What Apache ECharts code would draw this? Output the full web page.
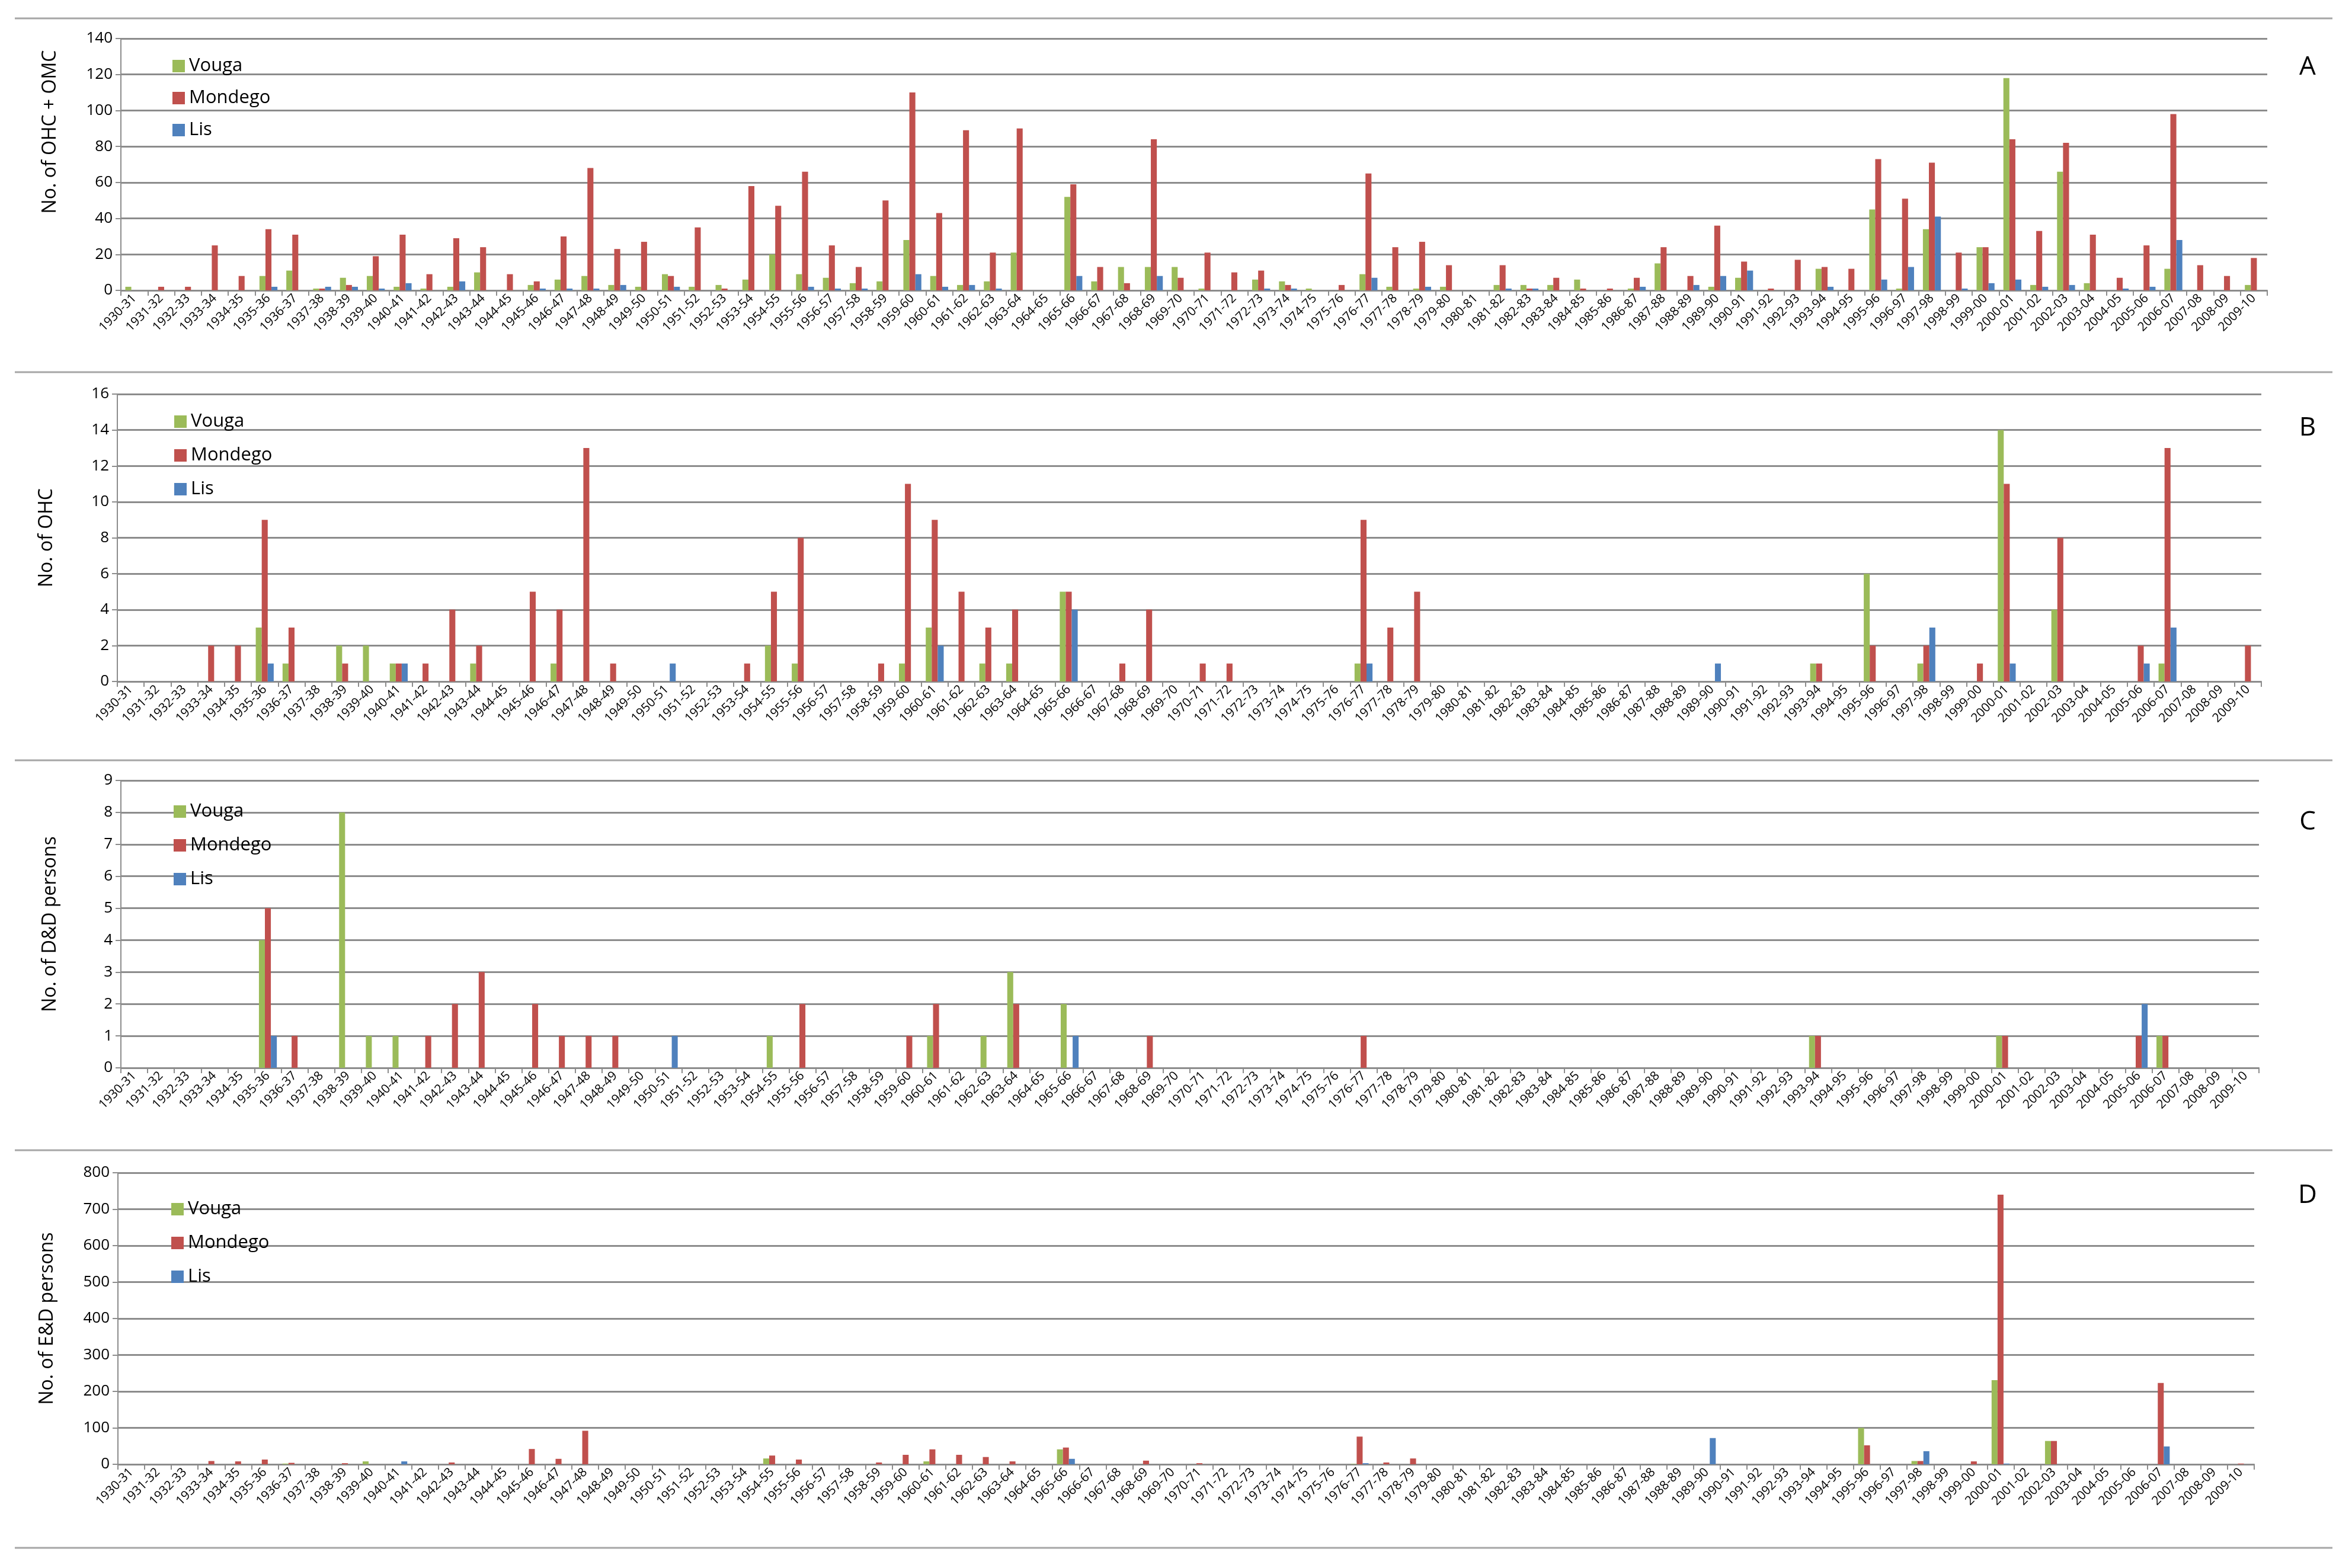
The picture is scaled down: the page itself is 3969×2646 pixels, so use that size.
<!DOCTYPE html>
<html><head><meta charset="utf-8">
<script src="https://cdn.jsdelivr.net/npm/echarts@6/dist/echarts.min.js"></script>
<style>html,body{margin:0;padding:0;background:#fff}#c{width:3969px;height:2646px}</style>
</head><body><div id="c"></div>
<script>
const categories = ["1930-31","1931-32","1932-33","1933-34","1934-35","1935-36","1936-37","1937-38","1938-39","1939-40",
"1940-41","1941-42","1942-43","1943-44","1944-45","1945-46","1946-47","1947-48","1948-49","1949-50",
"1950-51","1951-52","1952-53","1953-54","1954-55","1955-56","1956-57","1957-58","1958-59","1959-60",
"1960-61","1961-62","1962-63","1963-64","1964-65","1965-66","1966-67","1967-68","1968-69","1969-70",
"1970-71","1971-72","1972-73","1973-74","1974-75","1975-76","1976-77","1977-78","1978-79","1979-80",
"1980-81","1981-82","1982-83","1983-84","1984-85","1985-86","1986-87","1987-88","1988-89","1989-90",
"1990-91","1991-92","1992-93","1993-94","1994-95","1995-96","1996-97","1997-98","1998-99","1999-00",
"2000-01","2001-02","2002-03","2003-04","2004-05","2005-06","2006-07","2007-08","2008-09","2009-10"];

const seriesNames = ["Vouga","Mondego","Lis"];

// Panel A: No. of OHC + OMC
const vougaA = [2,0,0,0,0,8,11,1,7,8, 2,1,2,10,0,3,6,8,3,2, 9,2,3,6,20,9,7,4,5,28, 8,3,5,21,0,52,5,13,13,13, 1,0,6,5,1,0,9,2,1,2, 0,3,3,3,6,0,1,15,0,2, 7,0,0,12,0,45,1,34,0,24, 118,3,66,4,0,0,12,0,0,3];
const mondegoA = [0,2,2,25,8,34,31,1,3,19, 31,9,29,24,9,5,30,68,23,27, 8,35,1,58,47,66,25,13,50,110, 43,89,21,90,0,59,13,4,84,7, 21,10,11,3,0,3,65,24,27,14, 0,14,1,7,1,1,7,24,8,36, 16,1,17,13,12,73,51,71,21,24, 84,33,82,31,7,25,98,14,8,18];
const lisA = [0,0,0,0,0,2,0,2,2,1, 4,0,5,0,0,1,1,1,3,0, 2,0,0,0,0,2,1,1,0,9, 2,3,1,0,0,8,0,0,8,0, 0,0,1,1,0,0,7,0,2,0, 0,1,1,0,0,0,2,0,3,8, 11,0,0,2,0,6,13,41,1,4, 6,2,3,0,1,2,28,0,0,0];

// Panel B: No. of OHC
const vougaB = [0,0,0,0,0,3,1,0,2,2, 1,0,0,1,0,0,1,0,0,0, 0,0,0,0,2,1,0,0,0,1, 3,0,1,1,0,5,0,0,0,0, 0,0,0,0,0,0,1,0,0,0, 0,0,0,0,0,0,0,0,0,0, 0,0,0,1,0,6,0,1,0,0, 14,0,4,0,0,0,1,0,0,0];
const mondegoB = [0,0,0,2,2,9,3,0,1,0, 1,1,4,2,0,5,4,13,1,0, 0,0,0,1,5,8,0,0,1,11, 9,5,3,4,0,5,0,1,4,0, 1,1,0,0,0,0,9,3,5,0, 0,0,0,0,0,0,0,0,0,0, 0,0,0,1,0,2,0,2,0,1, 11,0,8,0,0,2,13,0,0,2];
const lisB = [0,0,0,0,0,1,0,0,0,0, 1,0,0,0,0,0,0,0,0,0, 1,0,0,0,0,0,0,0,0,0, 2,0,0,0,0,4,0,0,0,0, 0,0,0,0,0,0,1,0,0,0, 0,0,0,0,0,0,0,0,0,1, 0,0,0,0,0,0,0,3,0,0, 1,0,0,0,0,1,3,0,0,0];

// Panel C: No. of D&D persons
const vougaC = [0,0,0,0,0,4,0,0,8,1, 1,0,0,0,0,0,0,0,0,0, 0,0,0,0,1,0,0,0,0,0, 1,0,1,3,0,2,0,0,0,0, 0,0,0,0,0,0,0,0,0,0, 0,0,0,0,0,0,0,0,0,0, 0,0,0,1,0,0,0,0,0,0, 1,0,0,0,0,0,1,0,0,0];
const mondegoC = [0,0,0,0,0,5,1,0,0,0, 0,1,2,3,0,2,1,1,1,0, 0,0,0,0,0,2,0,0,0,1, 2,0,0,2,0,0,0,0,1,0, 0,0,0,0,0,0,1,0,0,0, 0,0,0,0,0,0,0,0,0,0, 0,0,0,1,0,0,0,0,0,0, 1,0,0,0,0,1,1,0,0,0];
const lisC = [0,0,0,0,0,1,0,0,0,0, 0,0,0,0,0,0,0,0,0,0, 1,0,0,0,0,0,0,0,0,0, 0,0,0,0,0,1,0,0,0,0, 0,0,0,0,0,0,0,0,0,0, 0,0,0,0,0,0,0,0,0,0, 0,0,0,0,0,0,0,0,0,0, 0,0,0,0,0,2,0,0,0,0];

// Panel D: No. of E&D persons
const vougaD = [0,0,0,0,0,0,2,0,0,8, 0,0,0,0,0,0,0,0,0,0, 0,0,0,0,16,0,0,0,0,0, 8,0,0,0,0,41,0,0,0,0, 0,0,0,0,0,0,1,0,0,0, 0,0,0,0,0,0,0,0,0,0, 0,0,0,0,0,100,0,9,0,0, 231,0,64,0,0,0,0,0,0,0];
const mondegoD = [0,0,0,9,8,13,4,0,3,0, 0,0,5,0,0,42,15,92,0,0, 0,0,0,0,24,13,0,0,5,26, 41,26,20,8,0,46,0,0,10,0, 3,0,0,0,0,0,76,5,16,0, 0,0,0,0,0,0,0,0,0,0, 0,0,0,0,0,52,0,9,0,8, 740,0,64,0,0,0,223,0,0,2];
const lisD = [0,0,0,0,0,0,0,0,0,0, 8,0,0,0,0,0,0,0,0,0, 0,0,0,0,0,0,0,0,0,0, 0,0,0,0,0,15,0,0,0,0, 0,0,0,0,0,0,3,0,0,0, 0,0,0,0,0,0,0,0,0,72, 0,0,0,0,0,0,0,36,0,0, 2,0,0,0,0,0,49,0,0,0];

const yTitles = ["No. of OHC + OMC","No. of OHC","No. of D&D persons","No. of E&D persons"];
const panelLetters = ["A","B","C","D"];
const yMax = [140,16,9,800];
const yStep = [20,2,1,100];

const panelData = [[vougaA,mondegoA,lisA],[vougaB,mondegoB,lisB],[vougaC,mondegoC,lisC],[vougaD,mondegoD,lisD]];
const colors = ["#9BBB59","#C0504D","#4F81BD"];

const FONT = "Open Sans";
const gridBoxes = [
  {left:204, top:65, width:3622, height:425},
  {left:198, top:665, width:3618, height:485},
  {left:204, top:1317, width:3608, height:485},
  {left:199, top:1979, width:3605, height:492}
];
const legendPos = [{left:286, top:91, gap:23},{left:289, top:691, gap:26},{left:288, top:1349, gap:26},{left:284, top:2020, gap:26}];
const titleShift = [110, 0, 0, 0];
const letterPos = [[3894,113],[3894,722],[3894,1387],[3894,2017]];
const sepY = [31,628,1283,1941,2612];

const gridColor = "#8c8c8c";
const option = {
  animation:false,
  backgroundColor:"#ffffff",
  textStyle:{fontFamily:FONT},
  grid: gridBoxes.map(g => Object.assign({containLabel:false}, g)),
  legend: legendPos.map((p,i)=>({
    left:p.left, top:p.top, orient:"vertical", itemWidth:21, itemHeight:21, itemGap:p.gap,
    icon:"rect", data:seriesNames,
    textStyle:{fontFamily:FONT, fontSize:31, color:"#000", padding:[0,0,0,2]},
    selectedMode:false
  })),
  xAxis: gridBoxes.map((g,i)=>({
    type:"category", gridIndex:i, data:categories, boundaryGap:true,
    axisLine:{show:true, lineStyle:{color:gridColor, width:2}},
    axisTick:{show:true, alignWithLabel:false, interval:0, length:9, lineStyle:{color:gridColor, width:2}},
    axisLabel:{interval:0, rotate:45, fontSize:21, color:"#000", fontFamily:FONT, margin:10},
    splitLine:{show:false}
  })),
  yAxis: gridBoxes.map((g,i)=>({
    type:"value", gridIndex:i, min:0, max:yMax[i], interval:yStep[i],
    name:yTitles[i], nameLocation:"middle", nameGap:103, nameRotate:90,
    nameTextStyle:{fontFamily:FONT, fontSize:32, color:"#000", padding:[0,0,0,titleShift[i]]},
    axisLine:{show:true, lineStyle:{color:gridColor, width:2}},
    axisTick:{show:true, length:9, lineStyle:{color:gridColor, width:2}},
    axisLabel:{fontSize:26, color:"#000", fontFamily:FONT, margin:14},
    splitLine:{show:true, lineStyle:{color:gridColor, width:3}}
  })),
  series: [],
  graphic: []
};

panelData.forEach((arrs,p)=>{
  arrs.forEach((vals,s)=>{
    option.series.push({
      type:"bar", name:seriesNames[s], xAxisIndex:p, yAxisIndex:p, data:vals,
      barGap:"0%", barCategoryGap:"33%",
      itemStyle:{color:colors[s]}
    });
  });
});

sepY.forEach(y=>{
  option.graphic.push({type:"line", shape:{x1:25,y1:y,x2:3936,y2:y}, style:{stroke:"#a6a6a6", lineWidth:3}, silent:true});
});
letterPos.forEach((pt,i)=>{
  option.graphic.push({type:"text", x:pt[0], y:pt[1], style:{text:panelLetters[i], font:"44px '"+FONT+"'", fill:"#000", align:"center", verticalAlign:"middle"}});
});

const chart = echarts.init(document.getElementById("c"));
chart.setOption(option);
</script>
</body></html>
